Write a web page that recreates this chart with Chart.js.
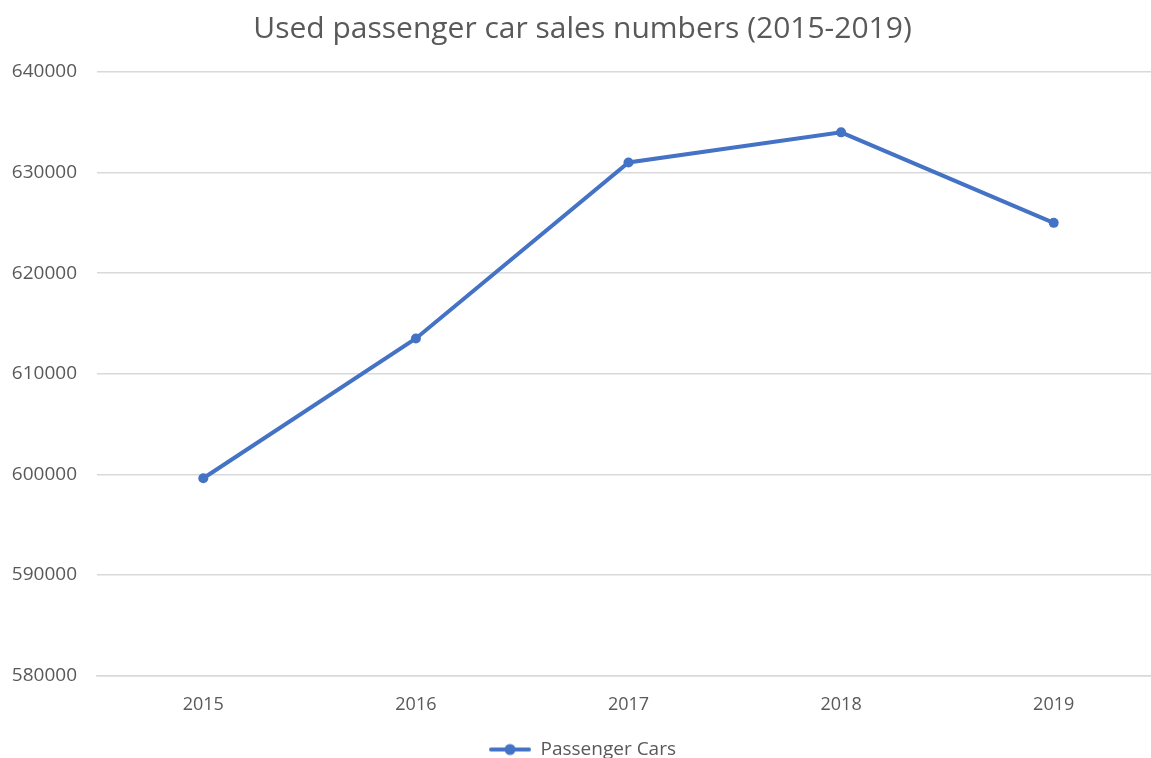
<!DOCTYPE html>
<html>
<head>
<meta charset="utf-8">
<script src="https://cdn.jsdelivr.net/npm/chart.js@4.4.1/dist/chart.umd.min.js"></script>
<style>
  html, body { margin: 0; padding: 0; background: #fff; overflow: hidden; }
  #wrap { position: absolute; left: 0; top: 0; width: 1165px; height: 769px; }
</style>
</head>
<body>
<div id="wrap"><canvas id="chart"></canvas></div>
<script>
// data
const years = ['2015', '2016', '2017', '2018', '2019'];
const passengerCars = [599600, 613500, 631000, 634000, 625000];
const yTicks = [580000, 590000, 600000, 610000, 620000, 630000, 640000];

const blue = '#4472C4';
const grey = '#595959';
const font = '"Open Sans", sans-serif';

// legend marker: line with a dot
function legendMarker() {
    const c = document.createElement('canvas');
    c.width = 42; c.height = 14;
    const g = c.getContext('2d');
    g.strokeStyle = blue; g.lineWidth = 4; g.lineCap = 'round';
    g.beginPath(); g.moveTo(2, 7); g.lineTo(40, 7); g.stroke();
    g.fillStyle = blue;
    g.beginPath(); g.arc(21, 7, 5.5, 0, Math.PI * 2); g.fill();
    return c;
}
const marker = legendMarker();

new Chart(document.getElementById('chart'), {
    type: 'line',
    data: {
        labels: years,
        datasets: [{
            label: 'Passenger Cars',
            data: passengerCars,
            borderColor: blue,
            backgroundColor: blue,
            borderWidth: 4,
            pointRadius: 5,
            pointBackgroundColor: blue,
            pointBorderWidth: 0,
            tension: 0
        }]
    },
    options: {
        responsive: true,
        maintainAspectRatio: false,
        animation: false,
        layout: { padding: { top: 11, left: 0, right: 0, bottom: 0 } },
        plugins: {
            title: {
                display: true,
                text: 'Used passenger car sales numbers (2015-2019)',
                color: grey,
                font: { family: font, size: 30, weight: 'normal' },
                padding: { top: 0, bottom: 25 }
            },
            legend: {
                position: 'bottom',
                labels: {
                    color: grey,
                    font: { family: font, size: 19 },
                    usePointStyle: true,
                    pointStyleWidth: 42,
                    padding: 8,
                    generateLabels: (chart) => [{
                        text: 'Passenger Cars',
                        fontColor: grey,
                        pointStyle: marker,
                        fillStyle: blue,
                        strokeStyle: blue,
                        lineWidth: 0,
                        datasetIndex: 0
                    }]
                }
            },
            tooltip: { enabled: false }
        },
        scales: {
            x: {
                offset: true,
                grid: { display: false },
                border: { color: '#d9d9d9', width: 1.5 },
                afterFit: (axis) => { axis.height += 5; },
                ticks: { color: grey, font: { family: font, size: 18 }, padding: 11 }
            },
            y: {
                min: 580000,
                max: 640000,
                afterBuildTicks: (axis) => { axis.ticks = yTicks.map(v => ({ value: v })); },
                afterFit: (axis) => { axis.width = 97; },
                grid: { color: '#d9d9d9', lineWidth: 1.5, drawTicks: false },
                border: { display: false },
                ticks: {
                    color: grey,
                    font: { family: font, size: 19 },
                    padding: 20,
                    callback: (v) => String(v)
                }
            }
        }
    }
});
</script>
</body>
</html>
